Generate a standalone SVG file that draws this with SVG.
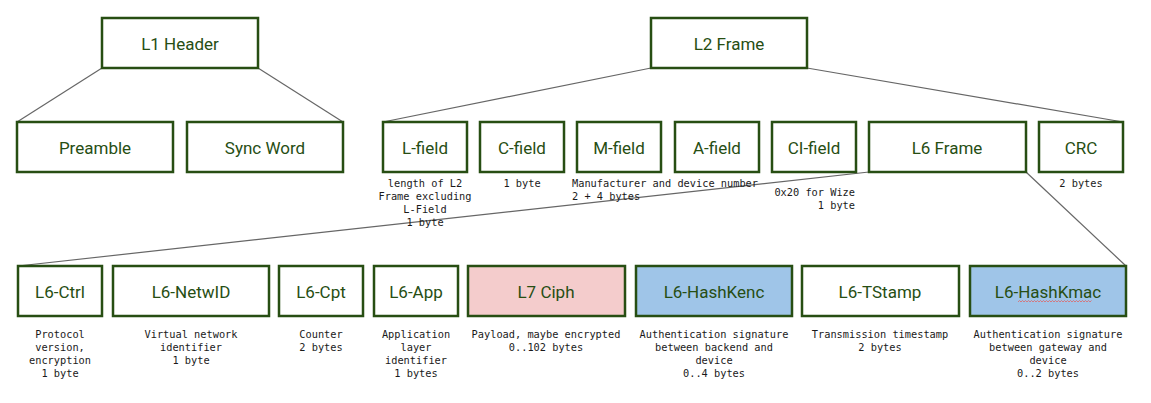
<svg xmlns="http://www.w3.org/2000/svg" width="1151" height="403" viewBox="0 0 1151 403">
<style>
.b{fill:#ffffff;stroke:#274e13;stroke-width:2.5}
.r{fill:#f4cccc}
.u{fill:#9fc5e8}
.t{font-family:Roboto,"Liberation Sans",sans-serif;font-size:17px;fill:#274e13;text-anchor:middle;dominant-baseline:central}
.n{font-family:"DejaVu Sans Mono","Liberation Mono",monospace;font-size:10.3px;fill:#1a1a1a;text-anchor:middle}
.l{stroke:#666666;stroke-width:1.2;fill:none}
</style>
<rect width="1151" height="403" fill="#ffffff"/>
<g id="connectors">
<line class="l" x1="102" y1="68" x2="17" y2="122"/>
<line class="l" x1="258" y1="68" x2="343" y2="122"/>
<line class="l" x1="651" y1="68" x2="383" y2="122"/>
<line class="l" x1="807" y1="68" x2="1123" y2="122"/>
<line class="l" x1="869" y1="172" x2="18" y2="266"/>
<line class="l" x1="1026" y1="172" x2="1126" y2="266"/>
</g>
<g id="l1header"><rect class="b" x="102" y="18" width="156" height="50"/><text class="t" x="180" y="44">L1 Header</text></g>
<g id="preamble"><rect class="b" x="17" y="122" width="156" height="50"/><text class="t" x="95" y="148">Preamble</text></g>
<g id="syncword"><rect class="b" x="187" y="122" width="156" height="50"/><text class="t" x="265" y="148">Sync Word</text></g>
<g id="l2frame"><rect class="b" x="651" y="18" width="156" height="50"/><text class="t" x="729" y="44">L2 Frame</text></g>
<g id="lfield"><rect class="b" x="383" y="122" width="84" height="50"/><text class="t" x="425" y="148">L-field</text>
<text class="n"><tspan x="425" y="187">length of L2</tspan><tspan x="425" y="200">Frame excluding</tspan><tspan x="425" y="213">L-Field</tspan><tspan x="425" y="226">1 byte</tspan></text></g>
<g id="cfield"><rect class="b" x="480" y="122" width="84" height="50"/><text class="t" x="522" y="148">C-field</text>
<text class="n" x="522" y="187">1 byte</text></g>
<g id="mfield"><rect class="b" x="577" y="122" width="84" height="50"/><text class="t" x="619" y="148">M-field</text>
<text class="n" style="text-anchor:start"><tspan x="572" y="187">Manufacturer and device number</tspan><tspan x="572" y="200">2 + 4 bytes</tspan></text></g>
<g id="afield"><rect class="b" x="675" y="122" width="84" height="50"/><text class="t" x="717" y="148">A-field</text></g>
<g id="cifield"><rect class="b" x="772" y="122" width="84" height="50"/><text class="t" x="814" y="148">CI-field</text>
<text class="n" style="text-anchor:end"><tspan x="855" y="196">0x20 for Wize</tspan><tspan x="855" y="209">1 byte</tspan></text></g>
<g id="l6frame"><rect class="b" x="869" y="122" width="157" height="50"/><text class="t" x="947" y="148">L6 Frame</text></g>
<g id="crc"><rect class="b" x="1039" y="122" width="84" height="50"/><text class="t" x="1081" y="148">CRC</text>
<text class="n" x="1081" y="187">2 bytes</text></g>
<g id="l6ctrl"><rect class="b" x="18" y="266" width="84" height="50"/><text class="t" x="60" y="292">L6-Ctrl</text>
<text class="n"><tspan x="60" y="338">Protocol</tspan><tspan x="60" y="351">version,</tspan><tspan x="60" y="364">encryption</tspan><tspan x="60" y="377">1 byte</tspan></text></g>
<g id="l6netwid"><rect class="b" x="113" y="266" width="156" height="50"/><text class="t" x="191" y="292">L6-NetwID</text>
<text class="n"><tspan x="191" y="338">Virtual network</tspan><tspan x="191" y="351">identifier</tspan><tspan x="191" y="364">1 byte</tspan></text></g>
<g id="l6cpt"><rect class="b" x="279" y="266" width="84" height="50"/><text class="t" x="321" y="292">L6-Cpt</text>
<text class="n"><tspan x="321" y="338">Counter</tspan><tspan x="321" y="351">2 bytes</tspan></text></g>
<g id="l6app"><rect class="b" x="374" y="266" width="84" height="50"/><text class="t" x="416" y="292">L6-App</text>
<text class="n"><tspan x="416" y="338">Application</tspan><tspan x="416" y="351">layer</tspan><tspan x="416" y="364">identifier</tspan><tspan x="416" y="377">1 bytes</tspan></text></g>
<g id="l7ciph"><rect class="b r" x="468" y="266" width="157" height="50"/><text class="t" x="546" y="292">L7 Ciph</text>
<text class="n"><tspan x="546" y="338">Payload, maybe encrypted</tspan><tspan x="546" y="351">0..102 bytes</tspan></text></g>
<g id="l6hashkenc"><rect class="b u" x="636" y="266" width="156" height="50"/><text class="t" x="714" y="292">L6-HashKenc</text>
<text class="n"><tspan x="714" y="338">Authentication signature</tspan><tspan x="714" y="351">between backend and</tspan><tspan x="714" y="364">device</tspan><tspan x="714" y="377">0..4 bytes</tspan></text></g>
<g id="l6tstamp"><rect class="b" x="802" y="266" width="157" height="50"/><text class="t" x="880" y="292">L6-TStamp</text>
<text class="n"><tspan x="880" y="338">Transmission timestamp</tspan><tspan x="880" y="351">2 bytes</tspan></text></g>
<g id="l6hashkmac"><rect class="b u" x="970" y="266" width="156" height="50"/><text class="t" x="1048" y="292">L6-HashKmac</text>
<path d="M1018 302 l1.5 -1.5 l1.5 1.5 l1.5 -1.5 l1.5 1.5 l1.5 -1.5 l1.5 1.5 l1.5 -1.5 l1.5 1.5 l1.5 -1.5 l1.5 1.5 l1.5 -1.5 l1.5 1.5 l1.5 -1.5 l1.5 1.5 l1.5 -1.5 l1.5 1.5 l1.5 -1.5 l1.5 1.5 l1.5 -1.5 l1.5 1.5 l1.5 -1.5 l1.5 1.5 l1.5 -1.5 l1.5 1.5 l1.5 -1.5 l1.5 1.5 l1.5 -1.5 l1.5 1.5 l1.5 -1.5 l1.5 1.5 l1.5 -1.5 l1.5 1.5 l1.5 -1.5 l1.5 1.5 l1.5 -1.5 l1.5 1.5 l1.5 -1.5 l1.5 1.5 l1.5 -1.5 l1.5 1.5 l1.5 -1.5 l1.5 1.5 l1.5 -1.5 l1.5 1.5 l1.5 -1.5 l1.5 1.5 l1.5 -1.5 l1.5 1.5 l1.5 -1.5" fill="none" stroke="#e06666" stroke-width="0.8"/>
<text class="n"><tspan x="1048" y="338">Authentication signature</tspan><tspan x="1048" y="351">between gateway and</tspan><tspan x="1048" y="364">device</tspan><tspan x="1048" y="377">0..2 bytes</tspan></text></g>
</svg>
